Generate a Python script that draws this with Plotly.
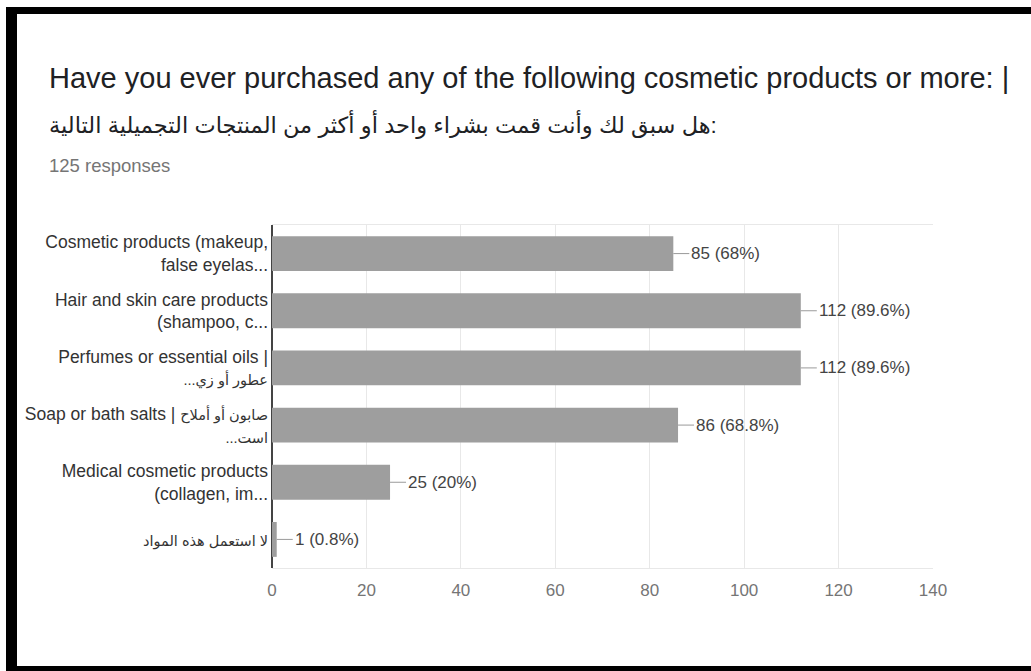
import plotly.graph_objects as go

# ---- data ----
AR = '<span style="font-size:14.5px">{}</span>'
categories = [
    "Cosmetic products (makeup,<br>false eyelas...",
    "Hair and skin care products<br>(shampoo, c...",
    "Perfumes or essential oils |<br>" + AR.format("...عطور أو زي"),
    "Soap or bath salts | " + AR.format("صابون أو أملاح") + "<br>" + AR.format("...است"),
    "Medical cosmetic products<br>(collagen, im...",
    AR.format("لا استعمل هذه المواد"),
]
counts = [85, 112, 112, 86, 25, 1]
percents = ["68%", "89.6%", "89.6%", "68.8%", "20%", "0.8%"]
x_ticks = [0, 20, 40, 60, 80, 100, 120, 140]

title_en = "Have you ever purchased any of the following cosmetic products or more: |"
title_ar = "هل سبق لك وأنت قمت بشراء واحد أو أكثر من المنتجات التجميلية التالية:"
subtitle = "125 responses"

# ---- layout geometry ----
W, H = 1031, 671
L, R, T, B = 272, 98, 225, 103
PW, PH = W - L - R, H - T - B


def px(x):
    return (x - L) / PW


def py(y):
    return 1 - (y - T) / PH


FONT = "Liberation Sans, Arial, DejaVu Sans, sans-serif"

fig = go.Figure()
fig.add_trace(go.Bar(
    x=counts, y=categories, orientation="h",
    marker=dict(color="#9e9e9e", line=dict(width=0)),
    hoverinfo="skip",
))

annotations = []
for c, v, p in zip(categories, counts, percents):
    annotations.append(dict(
        x=v, y=c, xref="x", yref="y",
        text=f"{v} ({p})", showarrow=True, ax=16, ay=0,
        xanchor="left", yanchor="middle",
        arrowhead=0, arrowwidth=1, arrowcolor="#9a9a9a",
        font=dict(family=FONT, size=17, color="#444444"),
    ))

# header texts
annotations += [
    dict(x=px(47), y=py(78), xref="paper", yref="paper", text=title_en,
         showarrow=False, xanchor="left", yanchor="middle",
         font=dict(family=FONT, size=29, color="#202124")),
    dict(x=px(47), y=py(125), xref="paper", yref="paper", text=title_ar,
         showarrow=False, xanchor="left", yanchor="middle",
         font=dict(family=FONT, size=22.5, color="#202124")),
    dict(x=px(47), y=py(165), xref="paper", yref="paper", text=subtitle,
         showarrow=False, xanchor="left", yanchor="middle",
         font=dict(family=FONT, size=18.5, color="#757575")),
]

shapes = [
    # left black border
    dict(type="rect", xref="paper", yref="paper", x0=px(6), x1=px(17),
         y0=py(671), y1=py(7), fillcolor="black", line=dict(width=0), layer="above"),
    # top black bar
    dict(type="rect", xref="paper", yref="paper", x0=px(6), x1=px(1031),
         y0=py(14), y1=py(7), fillcolor="black", line=dict(width=0), layer="above"),
    # bottom black line
    dict(type="rect", xref="paper", yref="paper", x0=px(6), x1=px(1031),
         y0=py(671), y1=py(666), fillcolor="black", line=dict(width=0), layer="above"),
]

fig.update_layout(
    width=W, height=H,
    margin=dict(l=L, r=R, t=T, b=B, pad=0, autoexpand=False),
    paper_bgcolor="white", plot_bgcolor="white",
    showlegend=False, bargap=0.39,
    font=dict(family=FONT),
    annotations=annotations, shapes=shapes,
    xaxis=dict(
        range=[0, 140], tickvals=x_ticks, ticktext=[str(t) for t in x_ticks],
        showgrid=True, gridcolor="#e8e8e8", gridwidth=1,
        showline=True, mirror=True, linecolor="#e8e8e8", linewidth=1,
        zeroline=True, zerolinecolor="#444444", zerolinewidth=2,
        ticks="", ticklabelstandoff=7, automargin=False,
        tickfont=dict(family=FONT, size=17, color="#757575"),
        fixedrange=True,
    ),
    yaxis=dict(
        type="category", categoryorder="array", categoryarray=categories,
        autorange="reversed", showgrid=False, showline=False, zeroline=False,
        ticks="", ticklabelstandoff=3, automargin=False,
        tickfont=dict(family=FONT, size=17.5, color="#333333"),
        fixedrange=True,
    ),
)

fig.write_html("out.html")
